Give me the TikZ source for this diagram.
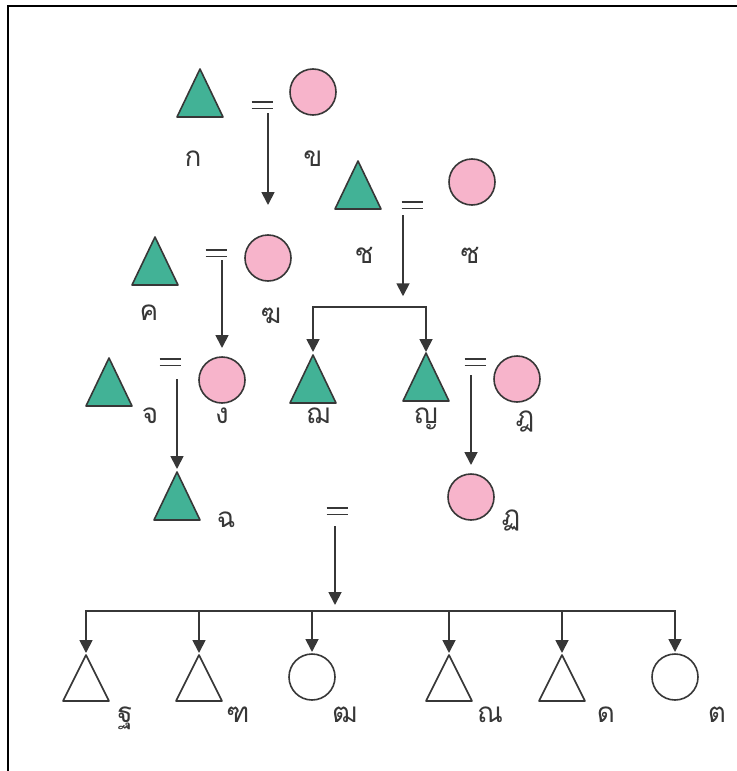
\documentclass[tikz,border=0pt]{standalone}
\usepackage{fontspec}
\newfontfamily\thaifont[Script=Thai]{Loma}
\usetikzlibrary{arrows.meta,calc}
\definecolor{teal1}{RGB}{66,178,150}
\definecolor{pink1}{RGB}{247,180,203}
\definecolor{ink}{RGB}{55,55,55}
\begin{document}
\begin{tikzpicture}[x=1bp,y=-1bp,
  tri/.style={rectangle,draw=none,minimum width=46bp,minimum height=48bp,inner sep=0pt,outer sep=0pt},
  trio/.style={tri,minimum height=46bp},
  triline/.style={draw=ink,line width=1.6bp,line join=round},
  fem/.style={circle,draw=ink,line width=1.6bp,minimum size=46bp,inner sep=0pt,outer sep=0pt,fill=pink1},
  femo/.style={fem,fill=white},
  lbl/.style={font=\thaifont\fontsize{28}{28}\selectfont,text=ink,anchor=base,inner sep=0pt},
  eqs/.style={rectangle,draw=none,minimum width=21bp,minimum height=6.5bp,inner sep=0pt,outer sep=0pt},
  eqline/.style={draw=ink,line width=1.5bp},
  conn/.style={draw=ink,line width=1.8bp},
  arr/.style={conn,-{Triangle[width=13bp,length=13bp]}},
]
\useasboundingbox (0,0) rectangle (737,771);
% frame
\draw[black,line width=2.5bp] (737,6) -- (8,6) -- (8,771);

% generation 1
\node[tri] (tA) at (200,93) {};
\node[fem] (cB) at (313,92) {};
\node[eqs] (e1) at (262,105) {};
\node[lbl] (lA) at (193,166) {ก};
\node[lbl] (lB) at (313,166) {ข};

\node[tri] (tG) at (358,185) {};
\node[fem] (cS) at (472,182) {};
\node[eqs] (e2) at (412,205) {};
\node[lbl] (lG) at (364,263) {ช};
\node[lbl] (lS) at (470,263) {ซ};

% generation 2
\node[tri] (tC) at (155,261) {};
\node[fem] (cK) at (268,258) {};
\node[eqs] (e3) at (216,253) {};
\node[lbl] (lC) at (149,320) {ค};
\node[lbl] (lK) at (271,323) {ฆ};

% generation 3
\node[tri] (tJ) at (109,382) {};
\node[fem] (cNg) at (222,380) {};
\node[eqs] (e4) at (170,362) {};
\node[lbl] (lJ) at (150,423) {จ};
\node[lbl] (lNg) at (222,423) {ง};

\node[tri] (tN) at (313,379) {};
\node[tri] (tY) at (426,377) {};
\node[fem] (cD) at (517,379) {};
\node[eqs] (e5) at (475,362) {};
\node[lbl] (lN) at (318,423) {ฌ};
\node[lbl] (lY) at (426,423) {ญ};
\node[lbl] (lD) at (525,426) {ฎ};

% generation 4
\node[tri] (tCh) at (177,496) {};
\node[fem] (cT) at (471,497) {};
\node[eqs] (e6) at (337,511) {};
\node[lbl] (lCh) at (226,527) {ฉ};
\node[lbl] (lT) at (511,525) {ฏ};

% generation 5
\node[trio] (k1) at (86,678) {};
\node[trio] (k2) at (199,678) {};
\node[femo] (k3) at (312,677) {};
\node[trio] (k4) at (449,678) {};
\node[trio] (k5) at (562,678) {};
\node[femo] (k6) at (675,677) {};
\node[lbl] (l1) at (125,722) {ฐ};
\node[lbl] (l2) at (238,722) {ฑ};
\node[lbl] (l3) at (345,722) {ฒ};
\node[lbl] (l4) at (490,722) {ณ};
\node[lbl] (l5) at (606,722) {ด};
\node[lbl] (l6) at (717,722) {ต};

% triangles
\foreach \n in {tA,tG,tC,tJ,tN,tY,tCh}
  \draw[triline,fill=teal1] (\n.south west) -- (\n.north) -- (\n.south east) -- cycle;
\foreach \n in {k1,k2,k4,k5}
  \draw[triline,fill=white] (\n.south west) -- (\n.north) -- (\n.south east) -- cycle;

% equals signs
\foreach \n in {e1,e2,e3,e4,e5,e6}
  \draw[eqline] (\n.north west) -- (\n.north east) (\n.south west) -- (\n.south east);

% descent lines
\coordinate (a1e) at ($(cK.north)+(0,-30)$);
\draw[arr] ($(e1.south -| cK.north)+(0,5)$) -- (a1e);

\coordinate (bar1) at (370,307);
\draw[arr] ($(e2.south -| tN.north)+(90,7)$) -- ($(e2.south -| tN.north)+(90,88)$);
\draw[conn,line cap=rect] (tN.north |- bar1) -- (tY.north |- bar1);
\draw[arr] (tN.north |- bar1) -- ($(tN.north)+(0,-3)$);
\draw[arr] (tY.north |- bar1) -- ($(tY.north)+(0,-1)$);

\draw[arr] ($(e3.south -| cNg.north)+(0,4)$) -- ($(cNg.north)+(0,-9)$);
\draw[arr] ($(e4.south -| tCh.north)+(0,14)$) -- ($(tCh.north)+(0,-3)$);
\draw[arr] ($(e5.south -| cT.north)+(0,10)$) -- ($(cT.north)+(0,-9)$);

\coordinate (bar2) at (335,611);
\draw[arr] ($(e6.south -| bar2)+(0,12)$) -- ($(bar2)+(0,-6)$);
\draw[conn,line cap=rect] (k1.north |- bar2) -- (k6.north |- bar2);
\foreach \n in {k1,k2,k3,k4,k5,k6}
  \draw[arr] (\n.north |- bar2) -- ($(\n.north)+(0,-2)$);
\end{tikzpicture}
\end{document}
